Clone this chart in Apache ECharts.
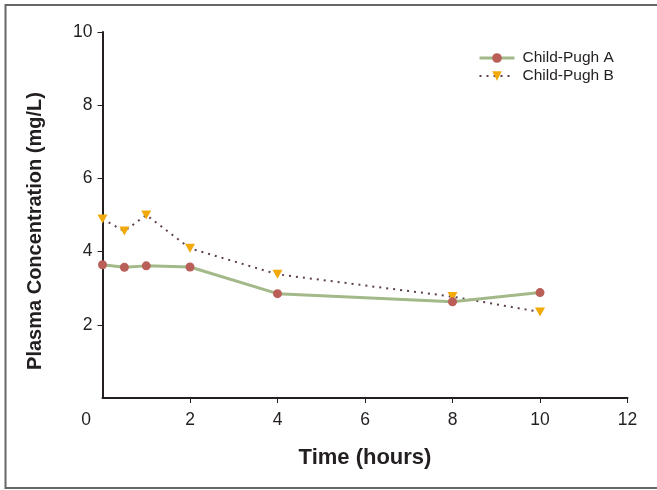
<!DOCTYPE html>
<html><head><meta charset="utf-8">
<script src="https://cdn.jsdelivr.net/npm/echarts@6/dist/echarts.min.js"></script>
<style>html,body{margin:0;padding:0;background:#fff}#c{width:657px;height:490px}</style>
</head><body><div id="c"></div>
<script>
var timesA = [0, 0.5, 1, 2, 4, 8, 10];
var valuesA = [3.64, 3.57, 3.61, 3.58, 2.85, 2.63, 2.88];
var timesB = [0, 0.5, 1, 2, 4, 8, 10];
var valuesB = [4.89, 4.56, 5.0, 4.09, 3.38, 2.77, 2.35];
var seriesNames = ['Child-Pugh A', 'Child-Pugh B'];
var xTicks = [2, 4, 6, 8, 10, 12];
var yTicks = [2, 4, 6, 8, 10];
var xTitle = 'Time (hours)';
var yTitle = 'Plasma Concentration (mg/L)';

function pairs(xs, ys){ return xs.map(function(x,i){ return [x, ys[i]]; }); }

var chart = echarts.init(document.getElementById('c'), null, {renderer:'canvas'});
var tickFont = {fontFamily:'Liberation Sans, Arial, sans-serif', fontSize:17.5, color:'#231f20'};
chart.setOption({
  animation:false,
  backgroundColor:'#fff',
  grid:{left:102.5, right:29.5, top:32, bottom:92, containLabel:false},
  legend:{
    orient:'vertical', left:478, top:49, padding:0, itemWidth:35, itemHeight:12, itemGap:0,
    textStyle:{fontFamily:'Liberation Sans, Arial, sans-serif', fontSize:15.5, lineHeight:18, color:'#231f20', padding:[0,0,0,3]},
    data:[
      {name:seriesNames[0], lineStyle:{width:3}},
      {name:seriesNames[1], lineStyle:{width:2}}
    ]
  },
  xAxis:{
    type:'value', min:0, max:12, interval:2,
    name:xTitle, nameLocation:'middle', nameGap:49,
    nameTextStyle:{fontFamily:'Liberation Sans, Arial, sans-serif', fontWeight:'bold', fontSize:22, color:'#231f20'},
    axisLine:{show:true, lineStyle:{color:'#231f20', width:2}},
    axisTick:{show:true, length:5, customValues:xTicks, lineStyle:{color:'#231f20', width:1}},
    axisLabel:Object.assign({margin:13, formatter:function(v){ return v===0 ? '{z|0}' : String(v); },
      rich:{z:{fontFamily:'Liberation Sans, Arial, sans-serif', fontSize:17.5, color:'#231f20', padding:[0,33,0,0]}}}, tickFont),
    splitLine:{show:false}
  },
  yAxis:{
    type:'value', min:0, max:10, interval:2,
    name:yTitle, nameLocation:'middle', nameGap:57, nameRotate:90,
    nameTextStyle:{fontFamily:'Liberation Sans, Arial, sans-serif', fontWeight:'bold', fontSize:20, color:'#231f20', padding:[0,32,0,0]},
    axisLine:{show:true, lineStyle:{color:'#231f20', width:2}},
    axisTick:{show:true, length:5, customValues:yTicks, lineStyle:{color:'#231f20', width:1}},
    axisLabel:Object.assign({margin:10, formatter:function(v){ return v===0 ? '' : String(v); }}, tickFont),
    splitLine:{show:false}
  },
  series:[
    {name:seriesNames[0], type:'line', data:pairs(timesA, valuesA),
     symbol:'circle', symbolSize:9,
     lineStyle:{color:'#a3b98a', width:3},
     itemStyle:{color:'#b95f58'}, z:3},
    {name:seriesNames[1], type:'line', data:pairs(timesB, valuesB),
     symbol:'triangle', symbolRotate:180, symbolSize:[10,9],
     lineStyle:{color:'#5e3f4d', width:2, type:[2,5]},
     itemStyle:{color:'#f1a90c'}, z:2}
  ],
  graphic:[
    {type:'polyline', silent:true, z:-1, shape:{points:[[700,5],[5.5,5],[5.5,488],[700,488]]},
     style:{stroke:'#666', lineWidth:2, fill:null}}
  ]
});
</script></body></html>
